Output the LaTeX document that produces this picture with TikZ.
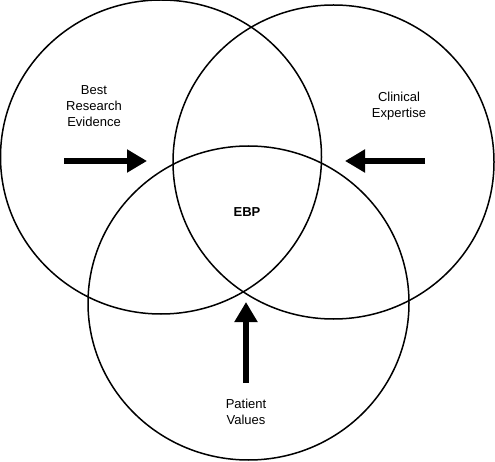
\documentclass[tikz,border=0pt]{standalone}
\usepackage{fontspec}
\setmainfont{Liberation Sans}
\usetikzlibrary{shapes.geometric,arrows.meta}

\begin{document}
\begin{tikzpicture}[x=1pt, y=1pt,
    venn/.style={ellipse, draw=black, line width=1.5pt, minimum width=321pt, minimum height=314pt},
    label/.style={align=center, font=\fontsize{13}{16}\selectfont},
    push/.style={line width=6pt, -{Triangle[length=20pt, width=22pt]}}]
            \useasboundingbox (0, 0) rectangle (495, 461);
            \node[venn] (research) at (161, 304) {};
            \node[venn] (expertise) at (333.5, 299) {};
            \node[venn] (values) at (248.5, 158) {};
            \node[label] (researchtext) at (94, 355) {Best\\Research\\Evidence};
            \node[label] (expertisetext) at (399, 355) {Clinical\\Expertise};
            \node[label] (valuestext) at (246, 49) {Patient\\Values};
            \node[label, font=\fontsize{13}{16}\selectfont\bfseries] (ebp) at (247, 249) {EBP};
            \coordinate (r0) at (64, 300);
            \coordinate (r1) at (147, 300);
            \coordinate (e0) at (425, 300);
            \coordinate (e1) at (345, 300);
            \coordinate (v0) at (246, 78);
            \coordinate (v1) at (246, 159);
            \draw[push] (r0) -- (r1);
            \draw[push] (e0) -- (e1);
            \draw[push] (v0) -- (v1);
        \end{tikzpicture}
\end{document}
